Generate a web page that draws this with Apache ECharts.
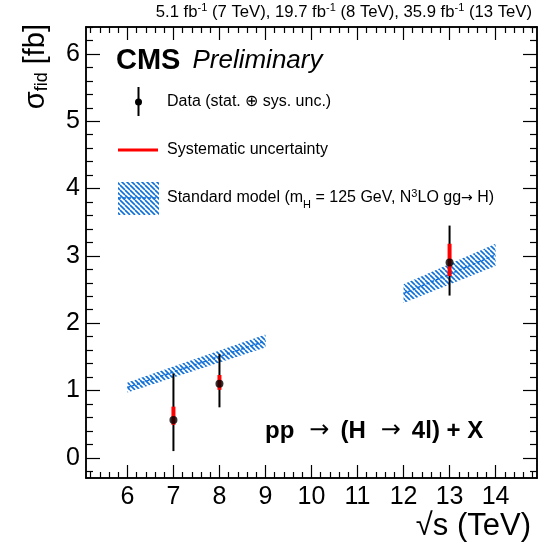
<!DOCTYPE html>
<html>
<head>
<meta charset="utf-8">
<script src="https://cdn.jsdelivr.net/npm/echarts@6/dist/echarts.min.js"></script>
<style>
html, body { margin: 0; padding: 0; background: #fff; }
#chart { width: 539px; height: 547px; }
</style>
</head>
<body>
<div id="chart"></div>
<script>
// measured cross sections (fb)
const energies = [7, 8, 13];
const xsec = [0.56, 1.10, 2.90];
const totLow = [0.10, 0.75, 2.41];
const totHigh = [1.25, 1.54, 3.45];
const sysLow = [0.49, 1.01, 2.70];
const sysHigh = [0.76, 1.23, 3.18];

// SM prediction bands
const smX = [[6, 9], [12, 14]];
const smLow = [[0.97, 1.64], [2.30, 2.85]];
const smHigh = [[1.12, 1.83], [2.58, 3.18]];

const xTicks = [6, 7, 8, 9, 10, 11, 12, 13, 14];
const yTicks = [0, 1, 2, 3, 4, 5, 6];

const FONT = 'Liberation Sans, Arial, Helvetica, sans-serif';
const BLUE = '#0f6fd8';

let xMinor = [], yMinor = [];
for (let i = 52; i <= 148; i += 2) {
    if (i % 10 !== 0) xMinor.push(i / 10);
}
for (let i = -2; i <= 64; i += 2) {
    if (i % 10 !== 0) yMinor.push(i / 10);
}

// hatch pattern
let pat = document.createElement('canvas');
pat.width = 5; pat.height = 5;
let pc = pat.getContext('2d');
pc.strokeStyle = BLUE;
pc.lineWidth = 1.6;
for (let k = -5; k <= 5; k += 5) {
    pc.beginPath();
    pc.moveTo(k, 0);
    pc.lineTo(k + 5, 5);
    pc.stroke();
}
const hatch = { image: pat, repeat: 'repeat' };

function xAx(pos, vals, len, labels) {
    return {
        type: 'value', position: pos, min: 5.1, max: 14.9,
        axisLine: { show: true, onZero: false, lineStyle: { color: '#000', width: 1.5 } },
        axisTick: { show: true, inside: true, length: len, customValues: vals, lineStyle: { color: '#000', width: 1.2 } },
        axisLabel: { show: labels, customValues: xTicks, fontSize: 25, color: '#000', fontFamily: FONT, margin: 7 },
        splitLine: { show: false }
    };
}
function yAx(pos, vals, len, labels) {
    return {
        type: 'value', position: pos, min: -0.3, max: 6.4,
        axisLine: { show: true, onZero: false, lineStyle: { color: '#000', width: 1.5 } },
        axisTick: { show: true, inside: true, length: len, customValues: vals, lineStyle: { color: '#000', width: 1.2 } },
        axisLabel: { show: labels, customValues: yTicks, fontSize: 25, color: '#000', fontFamily: FONT, margin: 6 },
        splitLine: { show: false }
    };
}

function barItem(color, width) {
    return function (params, api) {
        let p1 = api.coord([api.value(0), api.value(1)]);
        let p2 = api.coord([api.value(0), api.value(2)]);
        return { type: 'line', shape: { x1: p1[0], y1: p1[1], x2: p2[0], y2: p2[1] }, style: { stroke: color, lineWidth: width } };
    };
}

let chart = echarts.init(document.getElementById('chart'));
let option = {
    backgroundColor: '#fff',
    animation: false,
    grid: { left: 86, right: 2, top: 27, bottom: 69 },
    xAxis: [
        xAx('bottom', xTicks, 13, true),
        xAx('bottom', xMinor, 6, false),
        xAx('top', xTicks, 13, false),
        xAx('top', xMinor, 6, false)
    ],
    yAxis: [
        yAx('left', yTicks, 14, true),
        yAx('left', yMinor, 7, false),
        yAx('right', yTicks, 14, false),
        yAx('right', yMinor, 7, false)
    ],
    series: [
        {
            type: 'custom',
            data: smX.map((x, i) => [x[0], smLow[i][0], x[1], smLow[i][1], smHigh[i][0], smHigh[i][1]]),
            renderItem: function (params, api) {
                let x0 = api.value(0), x1 = api.value(2);
                let l0 = api.value(1), l1 = api.value(3), h0 = api.value(4), h1 = api.value(5);
                let pts = [api.coord([x0, l0]), api.coord([x1, l1]), api.coord([x1, h1]), api.coord([x0, h0])];
                let c0 = api.coord([x0, (l0 + h0) / 2]), c1 = api.coord([x1, (l1 + h1) / 2]);
                return {
                    type: 'group',
                    children: [
                        { type: 'polygon', shape: { points: pts }, style: { fill: hatch } },
                        { type: 'line', shape: { x1: c0[0], y1: c0[1], x2: c1[0], y2: c1[1] }, style: { stroke: BLUE, lineWidth: 1.5, lineDash: [3, 2] } }
                    ]
                };
            },
            z: 2
        },
        {
            type: 'custom',
            data: energies.map((e, i) => [e, totLow[i], totHigh[i]]),
            renderItem: barItem('#000', 2),
            z: 3
        },
        {
            type: 'custom',
            data: energies.map((e, i) => [e, sysLow[i], sysHigh[i]]),
            renderItem: barItem('#f00', 4),
            z: 4
        },
        {
            type: 'scatter',
            data: energies.map((e, i) => [e, xsec[i]]),
            symbol: 'circle',
            symbolSize: 8,
            itemStyle: { color: '#000' },
            z: 5
        }
    ],
    graphic: [
        {
            type: 'text', right: 7, top: 2,
            style: {
                text: '{a|5.1 fb}{s|-1}{a| (7 TeV), 19.7 fb}{s|-1}{a| (8 TeV), 35.9 fb}{s|-1}{a| (13 TeV)}',
                fontFamily: FONT,
                rich: {
                    a: { fontSize: 16.7, lineHeight: 22, fontFamily: FONT, fill: '#000' },
                    s: { fontSize: 11, lineHeight: 22, fontFamily: FONT, fill: '#000', padding: [0, 0, 9, 0] }
                }
            }
        },
        {
            type: 'text', x: 36, y: 24, rotation: Math.PI / 2,
            style: {
                text: '{a|σ}{b|fid}{a| [fb]}',
                align: 'right', verticalAlign: 'middle',
                rich: {
                    a: { fontSize: 29, fontFamily: FONT, fill: '#000', lineHeight: 36 },
                    b: { fontSize: 18, fontFamily: FONT, fill: '#000', lineHeight: 36, padding: [13, 0, 0, 0] }
                }
            }
        },
        {
            type: 'text', x: 531, y: 526,
            style: { text: '√s (TeV)', fontSize: 31, fontFamily: FONT, fill: '#000', align: 'right', verticalAlign: 'middle' }
        },
        {
            type: 'text', x: 116, y: 61,
            style: {
                text: '{b|CMS}{i|Preliminary}', verticalAlign: 'middle',
                rich: {
                    b: { fontSize: 29, fontWeight: 'bold', fontFamily: FONT, fill: '#000', padding: [0, 12, 0, 0] },
                    i: { fontSize: 26, fontStyle: 'italic', fontFamily: FONT, fill: '#000' }
                }
            }
        },
        { type: 'line', shape: { x1: 138.5, y1: 87, x2: 138.5, y2: 116 }, style: { stroke: '#000', lineWidth: 2 } },
        { type: 'circle', shape: { cx: 138.5, cy: 102, r: 3.5 }, style: { fill: '#000' } },
        {
            type: 'text', x: 167, y: 102,
            style: { text: 'Data (stat. ⊕ sys. unc.)', fontSize: 16, fontFamily: FONT, fill: '#000', verticalAlign: 'middle' }
        },
        { type: 'line', shape: { x1: 118, y1: 150, x2: 158, y2: 150 }, style: { stroke: '#f00', lineWidth: 3 } },
        {
            type: 'text', x: 167, y: 150,
            style: { text: 'Systematic uncertainty', fontSize: 16, fontFamily: FONT, fill: '#000', verticalAlign: 'middle' }
        },
        { type: 'rect', shape: { x: 118, y: 182, width: 41, height: 33 }, style: { fill: hatch } },
        { type: 'line', shape: { x1: 118, y1: 198, x2: 159, y2: 198 }, style: { stroke: BLUE, lineWidth: 1.5, lineDash: [3, 2] } },
        {
            type: 'text', x: 167, y: 198,
            style: {
                text: '{a|Standard model (m}{s|H}{a| = 125 GeV, N}{p|3}{a|LO gg}{r|→}{a| H)}',
                verticalAlign: 'middle',
                rich: {
                    a: { fontSize: 16, fontFamily: FONT, fill: '#000', lineHeight: 22 },
                    r: { fontSize: 14, fontFamily: 'DejaVu Sans', fill: '#000', lineHeight: 22 },
                    s: { fontSize: 11, fontFamily: FONT, fill: '#000', lineHeight: 22, padding: [14, 0, 0, 0] },
                    p: { fontSize: 11, fontFamily: FONT, fill: '#000', lineHeight: 22, padding: [0, 0, 9, 0] }
                }
            }
        },
        {
            type: 'text', x: 265, y: 431,
            style: {
                text: '{b|pp}{r|→}{b|(H}{r|→}{b|4l) + X}', verticalAlign: 'middle',
                rich: {
                    b: { fontSize: 24, fontWeight: 'bold', fontFamily: FONT, fill: '#000' },
                    r: { fontSize: 24, fontFamily: 'DejaVu Sans', fill: '#000', padding: [0, 11, 0, 15] }
                }
            }
        }
    ]
};
chart.setOption(option, true);
</script>
</body>
</html>
